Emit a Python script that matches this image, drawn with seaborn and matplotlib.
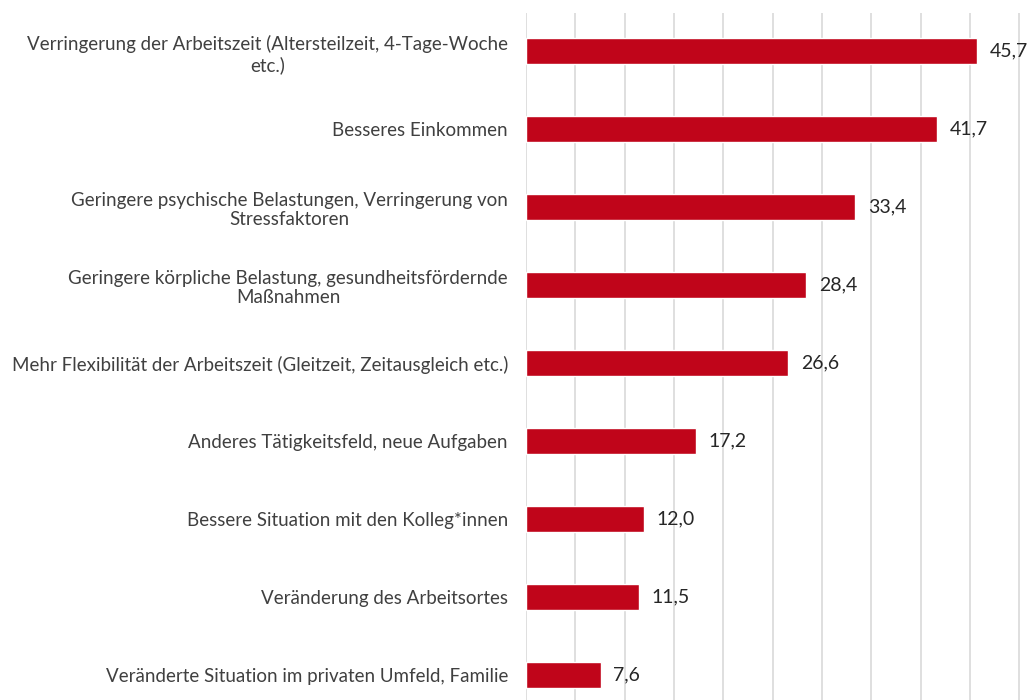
import pandas as pd
import matplotlib.pyplot as plt
import seaborn as sns

# Daten
kategorien = [
    "Verringerung der Arbeitszeit (Altersteilzeit, 4-Tage-Woche\netc.)",
    "Besseres Einkommen",
    "Geringere psychische Belastungen, Verringerung von\nStressfaktoren",
    "Geringere körpliche Belastung, gesundheitsfördernde\nMaßnahmen",
    "Mehr Flexibilität der Arbeitszeit (Gleitzeit, Zeitausgleich etc.)",
    "Anderes Tätigkeitsfeld, neue Aufgaben",
    "Bessere Situation mit den Kolleg*innen",
    "Veränderung des Arbeitsortes",
    "Veränderte Situation im privaten Umfeld, Familie",
]
werte = [45.7, 41.7, 33.4, 28.4, 26.6, 17.2, 12.0, 11.5, 7.6]

df = pd.DataFrame({'Kategorie': kategorien, 'Wert': werte})

sns.set_style('white')
plt.rcParams['font.family'] = ['Lato', 'DejaVu Sans']

fig = plt.figure(figsize=(10.35, 7), dpi=100)
ax = fig.add_axes([526 / 1035, 0, 509 / 1035, 687 / 700])

sns.barplot(data=df, y='Kategorie', x='Wert', color='#c0051a', saturation=1,
            width=0.335, orient='h', ax=ax)

ax.set_xlim(0, 51.6)
ax.set_ylim(8.32, -0.49)
ax.set_xticks(range(0, 51, 5))
ax.xaxis.grid(True, color='#d9d9d9', linewidth=1.2)
ax.set_axisbelow(True)
ax.set_xticklabels([])
ax.tick_params(axis='both', length=0)
ax.tick_params(axis='y', pad=13, labelsize=13.5, labelcolor='#404040')
for lbl in ax.get_yticklabels():
    lbl.set_multialignment('center')
for s in ax.spines.values():
    s.set_visible(False)
ax.set_xlabel('')
ax.set_ylabel('')

ax.bar_label(ax.containers[0], labels=[f"{v:.1f}".replace('.', ',') for v in werte],
             padding=9, fontsize=14, color='#262626')

fig.savefig('out.png', dpi=100)
